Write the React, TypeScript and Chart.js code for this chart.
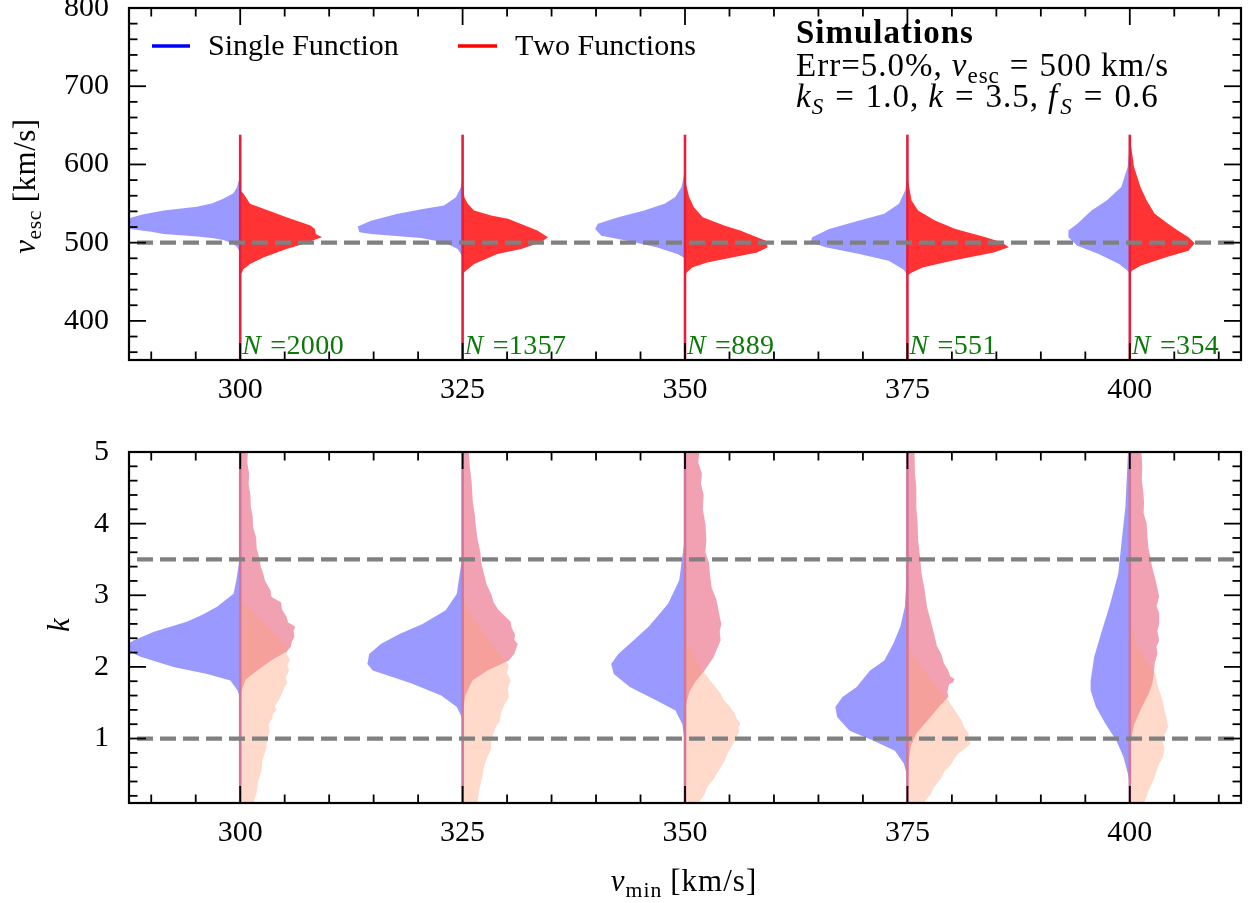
import React, { useEffect, useRef } from 'react';
import { Chart, registerables } from 'chart.js';

Chart.register(...registerables);

// ---------------- data ----------------
const VMIN_POSITIONS = [300, 325, 350, 375, 400];
const N_SIMULATED = [2000, 1357, 889, 551, 354];
const X_TICKS = [300, 325, 350, 375, 400];
const X_RANGE = [287.5, 412.5];
const VESC_TICKS = [400, 500, 600, 700, 800];
const VESC_RANGE = [350, 800];
const K_TICKS = [1, 2, 3, 4, 5];
const K_RANGE = [0.1, 5];
const VESC_TRUE = [500];
const K_TRUE = [3.5, 1.0];
const VESC_BAR = [340, 638];
const K_BAR = [0, 5.3];

// violin half-widths: [value, half-width in x-axis units]
const VESC_SINGLE = [
  [[586, 0], [578, 0.2], [571, 0.35], [563, 0.8], [556, 1.9], [550, 3.2], [546, 4.9], [541, 8.6], [536, 11], [531, 12.6], [527, 13.6], [524, 14], [521, 13.6], [517.6, 12.4], [514, 10], [511, 8.6], [508, 4.8], [505.5, 3], [503.5, 1.9], [499, 0.8], [494, 0.35], [490, 0.15], [487, 0]],
  [[589, 0], [578, 0.1], [571, 0.2], [558, 0.75], [547.6, 2.1], [543.3, 4.3], [537, 7.3], [528, 10.3], [520.6, 11.8], [513.3, 11.6], [511.2, 10.3], [506, 4.7], [500.4, 2.1], [492, 0.56], [485.5, 0.2], [482, 0]],
  [[597, 0], [585, 0.15], [571.2, 0.38], [558.3, 1.1], [549.8, 2.3], [541.2, 4.6], [532.6, 7.5], [524.1, 9.8], [517.6, 10.1], [509, 9.4], [502.6, 6.5], [494, 3.2], [485.5, 0.85], [481, 0.14], [479, 0]],
  [[588, 0], [566.9, 0.24], [549.8, 0.95], [536.9, 2.6], [528.3, 5.4], [517.6, 8.8], [506.8, 10.7], [500.4, 10.9], [494, 9.2], [485.5, 5.4], [476.8, 2.1], [466, 0.5], [459.7, 0]],
  [[637.7, 0], [615, 0.1], [596.9, 0.24], [571.2, 0.95], [554, 2.6], [541.2, 4.3], [524.1, 5.9], [515.4, 6.9], [506.8, 6.9], [496.1, 5.9], [485.5, 3.5], [472.6, 1.2], [464, 0.24], [460, 0]],
];
const VESC_TWO = [
  [[567, 0], [562.7, 0.37], [549.8, 1.1], [539, 3.7], [532.6, 5.2], [521.9, 7.9], [517.6, 8.4], [511.2, 8.5], [506.8, 9.2], [504.7, 8.6], [498.3, 7.1], [491.9, 5.2], [481, 2.6], [472.6, 1.1], [466, 0.37], [461.8, 0.2], [460, 0]],
  [[576, 0], [558, 0.2], [550, 0.56], [541, 1.3], [534.7, 3.2], [530.5, 5.1], [522, 7], [515.4, 8.4], [506.8, 9.6], [500.4, 8.8], [492, 6.6], [485.5, 3.9], [472.6, 1.3], [464, 0.37], [460, 0]],
  [[580, 0], [558.3, 0.47], [545.4, 1.0], [532.6, 2.0], [521.9, 4.4], [515.4, 6.2], [506.8, 8.1], [502.6, 9.1], [494, 9.3], [487.5, 8.1], [481, 5.3], [474.6, 2.5], [468.2, 0.8], [461.8, 0.2], [458, 0]],
  [[584, 0], [554, 0.47], [541.2, 1.2], [528.3, 3.1], [517.6, 5.4], [506.8, 8.8], [500.4, 10.6], [494, 11.4], [487.5, 9.7], [476.8, 5.0], [468.2, 1.7], [461.8, 0.5], [458, 0]],
  [[636, 0], [596.9, 0.47], [571.2, 1.2], [554, 1.9], [536.9, 2.8], [524.1, 4.3], [515.4, 5.4], [506.8, 6.6], [499.1, 7.3], [489.7, 6.6], [481, 4.0], [470.4, 1.2], [464, 0.24], [460, 0]],
];
const K_SINGLE = [
  [[3.55, 0], [3.4, 0.2], [3.2, 0.45], [3.02, 0.75], [2.84, 2.6], [2.73, 4.2], [2.63, 6.0], [2.49, 9.7], [2.37, 12.0], [2.3, 12.9], [2.22, 12.6], [2.14, 11.2], [2.0, 7.5], [1.9, 3.7], [1.81, 1.1], [1.67, 0.3], [1.56, 0]],
  [[3.6, 0], [3.4, 0.2], [3.02, 0.65], [2.79, 1.9], [2.6, 4.5], [2.46, 7.1], [2.32, 9.2], [2.18, 10.5], [2.04, 10.7], [1.95, 10.1], [1.77, 5.8], [1.6, 2.4], [1.44, 0.65], [1.3, 0.1], [1.2, 0]],
  [[3.8, 0], [3.63, 0.2], [3.21, 0.65], [2.88, 1.9], [2.56, 4.1], [2.37, 5.8], [2.18, 7.5], [2.04, 8.3], [1.9, 8.0], [1.72, 6.2], [1.53, 3.2], [1.39, 1.07], [1.2, 0.3], [0.97, 0.05], [0.8, 0]],
  [[3.5, 0], [3.3, 0.08], [2.84, 0.28], [2.56, 0.8], [2.32, 1.6], [2.09, 2.6], [1.95, 4.2], [1.72, 5.7], [1.58, 7.3], [1.44, 8.1], [1.3, 7.9], [1.11, 6.5], [0.97, 3.8], [0.83, 1.4], [0.65, 0.4], [0.5, 0.08], [0.37, 0]],
  [[5.3, 0], [5.2, 0.15], [5.0, 0.2], [4.23, 0.5], [3.77, 0.9], [3.3, 1.3], [2.84, 2.3], [2.46, 3.25], [2.14, 4.0], [1.81, 4.4], [1.67, 4.4], [1.44, 3.8], [1.2, 2.7], [0.97, 1.5], [0.74, 0.7], [0.5, 0.2], [0.37, 0]],
];
const K_TWO_HIGH = [
  [[5.3, 0], [5.3, 0.8], [5.15, 0.75], [5.0, 0.85], [4.85, 0.8], [4.7, 1.0], [4.55, 0.95], [4.4, 1.15], [4.23, 1.2], [4.1, 1.4], [3.95, 1.45], [3.8, 1.8], [3.65, 1.85], [3.5, 2.2], [3.4, 2.3], [3.3, 2.6], [3.2, 2.8], [3.07, 3.4], [2.98, 3.5], [2.9, 4.6], [2.8, 4.7], [2.7, 5.2], [2.62, 5.4], [2.56, 6.2], [2.5, 6.0], [2.42, 6.1], [2.35, 5.8], [2.28, 5.7], [2.21, 5.2], [2.1, 3.6], [1.95, 1.9], [1.82, 0.6], [1.65, 0.1], [1.5, 0]],
  [[5.3, 0], [5.3, 0.65], [5.1, 0.6], [5.0, 0.7], [4.8, 0.8], [4.6, 1.0], [4.47, 1.07], [4.3, 1.15], [4.1, 1.4], [3.95, 1.5], [3.77, 1.7], [3.6, 2.0], [3.45, 2.1], [3.3, 2.4], [3.15, 2.7], [3.02, 3.2], [2.9, 3.5], [2.8, 4.0], [2.74, 4.5], [2.63, 5.4], [2.55, 5.5], [2.45, 5.9], [2.38, 5.8], [2.32, 6.2], [2.25, 6.0], [2.18, 5.8], [2.09, 5.2], [1.95, 2.8], [1.81, 1.1], [1.6, 0.3], [1.44, 0.1], [1.35, 0]],
  [[5.3, 0], [5.3, 1.6], [5.15, 1.4], [5.0, 1.6], [4.85, 1.5], [4.7, 1.9], [4.55, 1.8], [4.4, 2.1], [4.2, 2.0], [4.0, 2.3], [3.77, 2.4], [3.6, 2.3], [3.45, 2.7], [3.3, 2.8], [3.1, 3.0], [2.95, 3.5], [2.84, 3.7], [2.7, 3.9], [2.6, 4.1], [2.5, 3.9], [2.37, 4.0], [2.25, 3.6], [2.13, 3.2], [1.95, 2.2], [1.8, 1.2], [1.65, 0.5], [1.5, 0.15], [1.35, 0]],
  [[5.3, 0], [5.3, 0.8], [5.1, 0.7], [5.0, 0.8], [4.7, 0.85], [4.5, 1.0], [4.23, 1.0], [4.0, 1.15], [3.77, 1.2], [3.55, 1.4], [3.3, 1.6], [3.1, 1.9], [2.84, 2.2], [2.65, 2.6], [2.46, 3.0], [2.3, 3.3], [2.18, 3.8], [2.05, 4.1], [1.95, 4.6], [1.87, 4.8], [1.83, 5.3], [1.78, 5.1], [1.76, 4.7], [1.72, 4.6], [1.65, 4.5], [1.58, 4.6], [1.45, 3.6], [1.3, 2.6], [1.07, 1.0], [0.9, 0.4], [0.74, 0.2], [0.6, 0]],
  [[5.3, 0], [5.3, 1.3], [5.15, 1.2], [5.0, 1.3], [4.8, 1.4], [4.6, 1.35], [4.47, 1.5], [4.3, 1.6], [4.15, 1.55], [4.0, 1.9], [3.8, 2.0], [3.65, 2.1], [3.54, 2.3], [3.4, 2.5], [3.21, 2.9], [3.1, 3.1], [2.98, 3.3], [2.85, 3.0], [2.75, 3.3], [2.6, 3.3], [2.5, 3.1], [2.37, 3.3], [2.28, 3.0], [2.18, 3.1], [2.05, 2.8], [1.9, 2.7], [1.75, 2.5], [1.62, 2.1], [1.4, 1.2], [1.2, 0.5], [1.0, 0.15], [0.85, 0]],
];
const K_TWO_LOW = [
  [[2.95, 0], [2.75, 1.5], [2.5, 3.6], [2.25, 5.4], [2.18, 5.2], [2.1, 5.6], [2.02, 5.3], [1.95, 5.5], [1.85, 5.1], [1.78, 5.3], [1.7, 4.9], [1.63, 4.7], [1.55, 4.4], [1.45, 3.9], [1.4, 4.1], [1.35, 3.7], [1.28, 3.6], [1.2, 3.2], [1.1, 3.3], [0.97, 3.0], [0.85, 2.9], [0.69, 2.5], [0.55, 2.4], [0.4, 2.0], [0.27, 1.9], [0.11, 1.5], [0, 1.4], [0, 0]],
  [[2.93, 0], [2.75, 0.9], [2.56, 1.9], [2.35, 3.1], [2.18, 4.1], [2.1, 4.7], [2.02, 5.2], [1.92, 5.0], [1.81, 5.4], [1.7, 5.1], [1.58, 5.2], [1.47, 4.7], [1.35, 4.3], [1.25, 4.2], [1.15, 3.7], [0.97, 3.2], [0.85, 3.2], [0.72, 2.7], [0.6, 2.4], [0.45, 2.2], [0.3, 1.9], [0.13, 1.7], [0, 1.5], [0, 0]],
  [[2.4, 0], [2.2, 0.8], [2.0, 1.7], [1.8, 2.9], [1.63, 4.0], [1.55, 4.3], [1.45, 5.0], [1.35, 5.6], [1.28, 5.8], [1.21, 6.25], [1.15, 6.0], [1.1, 6.1], [0.97, 5.6], [0.88, 5.2], [0.8, 4.8], [0.7, 4.5], [0.6, 4.0], [0.45, 3.3], [0.32, 2.5], [0.2, 2.1], [0.13, 1.7], [0, 1.4], [0, 0]],
  [[2.35, 0], [2.18, 0.6], [2.05, 1.3], [1.9, 2.2], [1.72, 3.4], [1.53, 4.6], [1.4, 5.3], [1.25, 6.1], [1.15, 6.4], [1.07, 6.9], [1.0, 6.8], [0.93, 7.1], [0.86, 6.5], [0.79, 5.7], [0.7, 5.2], [0.62, 4.8], [0.55, 4.2], [0.45, 3.8], [0.32, 3.0], [0.22, 2.6], [0.13, 2.0], [0, 1.7], [0, 0]],
  [[2.7, 0], [2.5, 0.4], [2.3, 0.8], [2.1, 1.8], [1.9, 2.9], [1.75, 3.1], [1.6, 3.5], [1.53, 3.7], [1.4, 3.9], [1.3, 4.1], [1.16, 4.3], [1.05, 3.9], [0.97, 3.7], [0.85, 3.9], [0.74, 3.7], [0.62, 3.2], [0.5, 2.9], [0.4, 2.6], [0.27, 2.1], [0.13, 1.7], [0, 1.5], [0, 0]],
];

// ---------------- styling helpers ----------------
const FONT = '"Liberation Serif", "Times New Roman", serif';
const W = 1253;
const TOP_H = 420;
const BOT_H = 483;

type Run = { t?: string; it?: boolean; bold?: boolean; sub?: boolean; gap?: number };

function runFont(r: Run, size: number) {
  const s = r.sub ? size * 0.7 : size;
  return `${r.it ? 'italic ' : ''}${r.bold ? 'bold ' : ''}${s}px ${FONT}`;
}
function layoutRuns(ctx: CanvasRenderingContext2D, runs: Run[], size: number, ls: number, draw: boolean, x = 0, y = 0) {
  let cx = x;
  for (const r of runs) {
    if (r.gap) {
      cx += r.gap;
      continue;
    }
    const t = r.t || '';
    ctx.font = runFont(r, size);
    for (const ch of t) {
      if (draw) ctx.fillText(ch, cx, r.sub ? y + size * 0.2 : y);
      cx += ctx.measureText(ch).width + ls;
    }
  }
  return cx - x;
}
function drawRuns(ctx: CanvasRenderingContext2D, runs: Run[], x: number, y: number, size: number, color: string, ls = 0) {
  ctx.fillStyle = color;
  ctx.textBaseline = 'alphabetic';
  ctx.textAlign = 'left';
  return layoutRuns(ctx, runs, size, ls, true, x, y);
}

function halfViolin(center: number, profile: number[][], side: number) {
  const pts = [{ x: center, y: profile[0][0] }];
  profile.forEach(([y, w]) => pts.push({ x: center + side * w, y }));
  pts.push({ x: center, y: profile[profile.length - 1][0] });
  return pts;
}

function fillSet(data: any[], color: string, order: number) {
  return {
    type: 'line',
    data,
    fill: 'shape',
    backgroundColor: color,
    borderColor: 'rgba(0,0,0,0)',
    borderWidth: 0,
    pointRadius: 0,
    pointHoverRadius: 0,
    order,
  };
}
function lineSet(data: any[], color: string, width: number, order: number, dash?: number[], dashOffset = 0) {
  return {
    type: 'line',
    data,
    fill: false,
    borderColor: color,
    borderWidth: width,
    borderDash: dash || [],
    borderDashOffset: dashOffset,
    borderCapStyle: 'butt',
    pointRadius: 0,
    pointHoverRadius: 0,
    order,
  };
}

function frameAndTicks(chart: any, xMinorStep: number, yMinorStep: number) {
  const { ctx, chartArea: a, scales } = chart;
  const x = scales.x;
  const y = scales.y;
  const MAJ = 17;
  const MIN = 8.5;
  ctx.save();
  ctx.strokeStyle = '#000';
  ctx.lineWidth = 1.8;
  ctx.lineCap = 'butt';
  const seg = (x1: number, y1: number, x2: number, y2: number) => {
    ctx.beginPath();
    ctx.moveTo(x1, y1);
    ctx.lineTo(x2, y2);
    ctx.stroke();
  };
  const xMaj = x.ticks.map((t: any) => t.value);
  const yMaj = y.ticks.map((t: any) => t.value);
  const near = (v: number, arr: number[]) => arr.some((m) => Math.abs(m - v) < 1e-6);
  for (let v = Math.ceil(x.min / xMinorStep) * xMinorStep; v <= x.max + 1e-9; v += xMinorStep) {
    const vv = Math.round(v * 1000) / 1000;
    const len = near(vv, xMaj) ? MAJ : MIN;
    const px = x.getPixelForValue(vv);
    seg(px, a.bottom, px, a.bottom - len);
    seg(px, a.top, px, a.top + len);
  }
  for (let v = Math.ceil(y.min / yMinorStep - 1e-9) * yMinorStep; v <= y.max + 1e-9; v += yMinorStep) {
    const vv = Math.round(v * 1000) / 1000;
    const len = near(vv, yMaj) ? MAJ : MIN;
    const py = y.getPixelForValue(vv);
    seg(a.left, py, a.left + len, py);
    seg(a.right, py, a.right - len, py);
  }
  ctx.lineWidth = 2.2;
  ctx.strokeRect(a.left, a.top, a.right - a.left, a.bottom - a.top);
  ctx.restore();
}

function baseOptions(yRange: number[], yTicks: number[], padTop: number, xHeight: number) {
  return {
    animation: false,
    responsive: false,
    devicePixelRatio: 1,
    events: [],
    layout: { padding: { left: 0, top: padTop, right: W - 1241, bottom: 0 } },
    plugins: { legend: { display: false }, tooltip: { enabled: false }, title: { display: false } },
    scales: {
      x: {
        type: 'linear',
        min: X_RANGE[0],
        max: X_RANGE[1],
        afterBuildTicks: (s: any) => {
          s.ticks = X_TICKS.map((v) => ({ value: v }));
        },
        afterFit: (s: any) => {
          s.height = xHeight;
          s.paddingLeft = 0;
          s.paddingRight = 0;
        },
        ticks: { color: '#000', font: { family: FONT, size: 30 }, padding: 12, maxRotation: 0, autoSkip: false },
        grid: { display: false, drawTicks: false },
        border: { display: false },
      },
      y: {
        type: 'linear',
        min: yRange[0],
        max: yRange[1],
        afterBuildTicks: (s: any) => {
          s.ticks = yTicks.map((v) => ({ value: v }));
        },
        afterFit: (s: any) => {
          s.width = 129;
          s.paddingTop = 0;
          s.paddingBottom = 0;
        },
        ticks: { color: '#000', font: { family: FONT, size: 30 }, padding: 20, autoSkip: false },
        grid: { display: false, drawTicks: false },
        border: { display: false },
      },
    },
  };
}

function topDatasets() {
  const ds: any[] = [];
  VMIN_POSITIONS.forEach((c, i) => {
    ds.push(fillSet(halfViolin(c, VESC_SINGLE[i], -1), 'rgba(0,0,255,0.4)', 50));
    ds.push(fillSet(halfViolin(c, VESC_TWO[i], 1), 'rgba(255,0,0,0.8)', 40));
    ds.push(lineSet([{ x: c, y: VESC_BAR[0] }, { x: c, y: VESC_BAR[1] }], '#e4203e', 2.6, 30));
  });
  VESC_TRUE.forEach((v) => {
    ds.push(lineSet([{ x: X_RANGE[0], y: v }, { x: X_RANGE[1], y: v }], '#808080', 4.2, 10, [16, 7], 15));
  });
  return ds;
}

function bottomDatasets() {
  const ds: any[] = [];
  VMIN_POSITIONS.forEach((c, i) => {
    ds.push(fillSet(halfViolin(c, K_SINGLE[i], -1), 'rgba(0,0,255,0.4)', 60));
    ds.push(fillSet(halfViolin(c, K_TWO_HIGH[i], 1), 'rgba(220,20,60,0.4)', 50));
    ds.push(fillSet(halfViolin(c, K_TWO_LOW[i], 1), 'rgba(255,160,122,0.4)', 40));
    ds.push(lineSet([{ x: c, y: K_BAR[0] }, { x: c, y: K_BAR[1] }], '#cf779c', 2.6, 30));
  });
  K_TRUE.forEach((v) => {
    ds.push(lineSet([{ x: X_RANGE[0], y: v }, { x: X_RANGE[1], y: v }], '#808080', 4.2, 10, [16, 7], 15));
  });
  return ds;
}

const topDecor = {
  id: 'topDecor',
  afterDraw(chart: any) {
    const { ctx, scales } = chart;
    frameAndTicks(chart, 5, 20);
    ctx.save();
    // legend
    ctx.lineWidth = 3.5;
    ctx.strokeStyle = '#0000ff';
    ctx.beginPath();
    ctx.moveTo(152, 46);
    ctx.lineTo(190, 46);
    ctx.stroke();
    ctx.strokeStyle = '#ff0000';
    ctx.beginPath();
    ctx.moveTo(458, 46);
    ctx.lineTo(497, 46);
    ctx.stroke();
    drawRuns(ctx, [{ t: 'Single Function' }], 208, 55, 30, '#000');
    drawRuns(ctx, [{ t: 'Two Functions' }], 515, 55, 30, '#000');
    // annotation
    drawRuns(ctx, [{ t: 'Simulations', bold: true }], 796, 43, 33, '#000', 1);
    drawRuns(
      ctx,
      [{ t: 'Err=5.0%,' }, { gap: 9 }, { t: 'v', it: true }, { t: 'esc', sub: true }, { gap: 10 }, { t: '=' }, { gap: 10 }, { t: '500' }, { gap: 9 }, { t: 'km/s' }],
      796,
      76,
      33,
      '#000',
      1
    );
    drawRuns(
      ctx,
      [
        { t: 'k', it: true },
        { t: 'S', it: true, sub: true },
        { gap: 11 },
        { t: '=' },
        { gap: 11 },
        { t: '1.0,' },
        { gap: 9 },
        { t: 'k', it: true },
        { gap: 11 },
        { t: '=' },
        { gap: 11 },
        { t: '3.5,' },
        { gap: 9 },
        { t: 'f', it: true },
        { gap: 2 },
        { t: 'S', it: true, sub: true },
        { gap: 11 },
        { t: '=' },
        { gap: 11 },
        { t: '0.6' },
      ],
      796,
      107,
      33,
      '#000',
      1
    );
    // sample sizes
    VMIN_POSITIONS.forEach((c, i) => {
      const px = scales.x.getPixelForValue(c);
      drawRuns(ctx, [{ t: 'N', it: true }, { gap: 9 }, { t: '=' + N_SIMULATED[i] }], px + 2, 354, 28, '#0a7a0a', 0.4);
    });
    // y title
    const runs: Run[] = [{ t: 'v', it: true }, { t: 'esc', sub: true }, { gap: 8 }, { t: '[km/s]' }];
    const w = layoutRuns(ctx, runs, 31, 0.5, false);
    ctx.translate(35, 186);
    ctx.rotate(-Math.PI / 2);
    drawRuns(ctx, runs, -w / 2, 0, 31, '#000', 0.5);
    ctx.restore();
  },
};

const bottomDecor = {
  id: 'bottomDecor',
  afterDraw(chart: any) {
    const { ctx } = chart;
    frameAndTicks(chart, 5, 0.2);
    ctx.save();
    const xr: Run[] = [{ t: 'v', it: true }, { t: 'min', sub: true }, { gap: 8 }, { t: '[km/s]' }];
    const xw = layoutRuns(ctx, xr, 31, 1, false);
    drawRuns(ctx, xr, 684 - xw / 2, 891 - TOP_H, 31, '#000', 1);
    const yr: Run[] = [{ t: 'k', it: true }];
    const yw = layoutRuns(ctx, yr, 31, 0, false);
    ctx.translate(69, 625 - TOP_H);
    ctx.rotate(-Math.PI / 2);
    drawRuns(ctx, yr, -yw / 2, 0, 31, '#000');
    ctx.restore();
  },
};

export default function App() {
  const topRef = useRef<HTMLCanvasElement | null>(null);
  const botRef = useRef<HTMLCanvasElement | null>(null);

  useEffect(() => {
    const top = new Chart(topRef.current as HTMLCanvasElement, {
      type: 'line',
      data: { datasets: topDatasets() },
      options: baseOptions(VESC_RANGE, VESC_TICKS, 8, TOP_H - 360) as any,
      plugins: [topDecor],
    } as any);
    const bot = new Chart(botRef.current as HTMLCanvasElement, {
      type: 'line',
      data: { datasets: bottomDatasets() },
      options: baseOptions(K_RANGE, K_TICKS, 452 - TOP_H, BOT_H - (803 - TOP_H)) as any,
      plugins: [bottomDecor],
    } as any);
    return () => {
      top.destroy();
      bot.destroy();
    };
  }, []);

  return (
    <div style={{ position: 'absolute', left: 0, top: 0, width: W, height: TOP_H + BOT_H, background: '#fff' }}>
      <canvas ref={topRef} width={W} height={TOP_H} style={{ position: 'absolute', left: 0, top: 0, width: W, height: TOP_H }} />
      <canvas ref={botRef} width={W} height={BOT_H} style={{ position: 'absolute', left: 0, top: TOP_H, width: W, height: BOT_H }} />
    </div>
  );
}
